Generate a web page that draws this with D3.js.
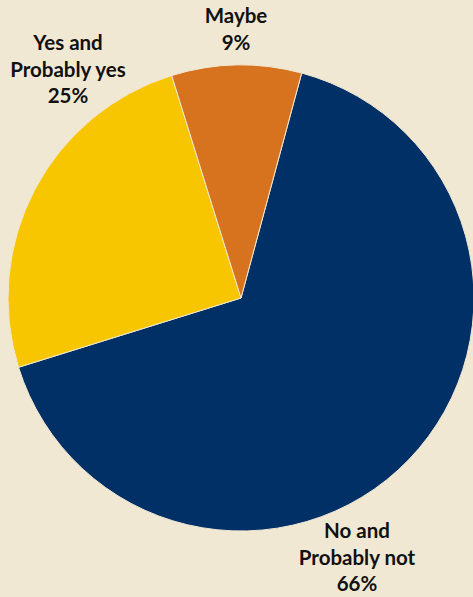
<!DOCTYPE html>
<html>
<head>
  <script src="https://cdn.jsdelivr.net/npm/d3@7"></script>
  <style>
    body { margin: 0; background: #f1e8d3; }
    text { font-family: Lato, sans-serif; font-weight: bold; font-size: 20.5px; fill: #111; }
  </style>
</head>
<body>
  <div id="chart"></div>
  <script>
    // Data
    const categories = ["No and|Probably not", "Yes and|Probably yes", "Maybe"];
    const values = [66, 25, 9];
    const colors = ["#003066", "#f7c600", "#d7721e"];
    // label anchor (x, first baseline) for each slice
    const labelPos = [[357, 538], [68, 50], [236, 23]];

    const width = 473, height = 597;
    const cx = 241, cy = 298, radius = 233;
    const startDeg = 15.1;

    const svg = d3.select("#chart").append("svg")
        .attr("width", width)
        .attr("height", height);

    svg.append("rect").attr("width", width).attr("height", height).attr("fill", "#f1e8d3");

    const pie = d3.pie()
        .sort(null)
        .value(d => d)
        .startAngle(startDeg * Math.PI / 180)
        .endAngle(startDeg * Math.PI / 180 + 2 * Math.PI);

    const arc = d3.arc().innerRadius(0).outerRadius(radius);

    const g = svg.append("g").attr("transform", `translate(${cx},${cy})`);

    g.selectAll("path")
        .data(pie(values))
        .enter().append("path")
        .attr("d", arc)
        .attr("fill", (d, i) => colors[i])
        .attr("stroke", "#f1e8d3")
        .attr("stroke-width", 1);

    // Labels
    categories.forEach((c, i) => {
      const lines = c.split("|").concat([values[i] + "%"]);
      const t = svg.append("text")
          .attr("text-anchor", "middle")
          .attr("x", labelPos[i][0])
          .attr("y", labelPos[i][1]);
      lines.forEach((l, j) => {
        t.append("tspan")
            .attr("x", labelPos[i][0])
            .attr("dy", j === 0 ? 0 : 26.7)
            .text(l);
      });
    });
  </script>
</body>
</html>
